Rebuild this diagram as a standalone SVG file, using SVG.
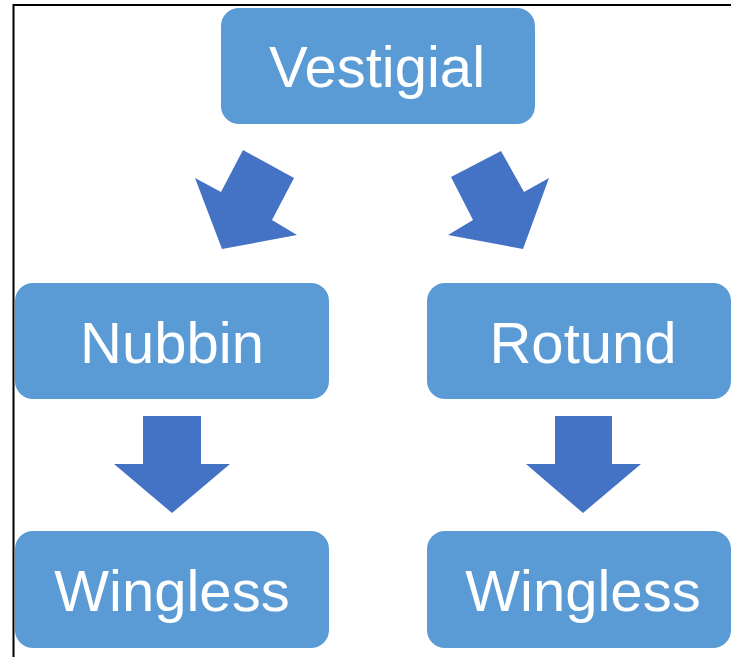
<svg xmlns="http://www.w3.org/2000/svg" width="731" height="657" viewBox="0 0 731 657">
  <style>
    .box { fill: #5B9BD5; }
    .label { fill: #FFFFFF; font-family: "Liberation Sans", Arial, sans-serif; font-size: 58px; text-anchor: middle; }
    .arrow { fill: #4472C4; }
    .frame { fill: none; stroke: #000000; stroke-width: 2; }
  </style>
  <rect width="731" height="657" fill="#FFFFFF"/>
  <!-- outer frame: left and top edges -->
  <path class="frame" d="M13.5,657 V5 H731"/>

  <g id="connectors">
    <polygon class="arrow" points="243,150 294,178 272,220 297,235 222,249 195,178 221,192"/>
    <polygon class="arrow" points="501,151 524,192 549,178 523,249 448,235 473,220 451,177"/>
    <polygon class="arrow" points="143,416 201,416 201,464 230,464 172,513 114,464 143,464"/>
    <polygon class="arrow" points="555,416 612,416 612,464 641,464 583,513 526,464 555,464"/>
  </g>

  <g id="vestigial">
    <rect class="box" x="221" y="8" width="314" height="116" rx="18"/>
    <text class="label" x="377" y="87">Vestigial</text>
  </g>
  <g id="nubbin">
    <rect class="box" x="15" y="283" width="314" height="116" rx="18"/>
    <text class="label" x="172" y="363">Nubbin</text>
  </g>
  <g id="rotund">
    <rect class="box" x="427" y="283" width="304" height="116" rx="18"/>
    <text class="label" x="583" y="363">Rotund</text>
  </g>
  <g id="wingless-left">
    <rect class="box" x="15" y="531" width="314" height="117" rx="18"/>
    <text class="label" x="172" y="611">Wingless</text>
  </g>
  <g id="wingless-right">
    <rect class="box" x="427" y="531" width="304" height="117" rx="18"/>
    <text class="label" x="583" y="611">Wingless</text>
  </g>
</svg>
